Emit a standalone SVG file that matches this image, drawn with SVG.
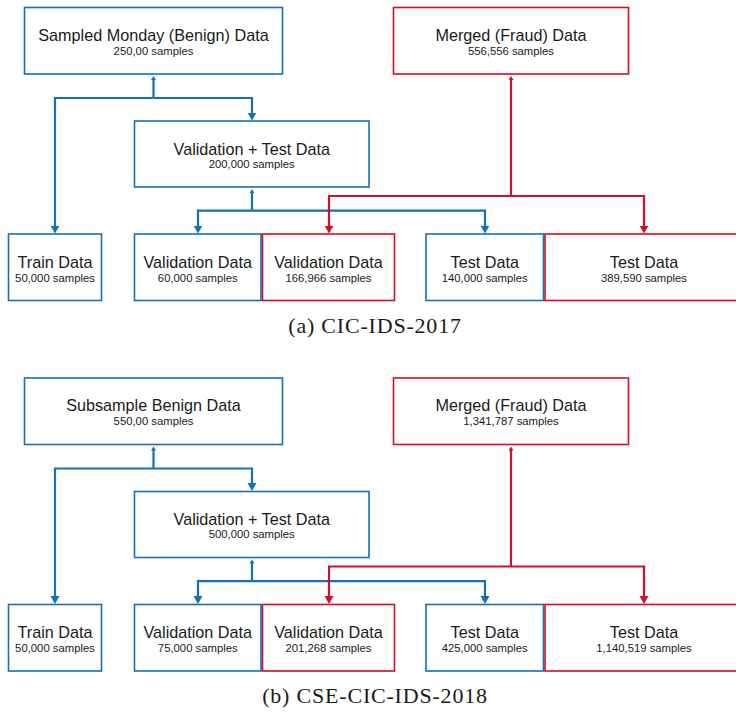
<svg xmlns="http://www.w3.org/2000/svg" width="736" height="716" viewBox="0 0 736 716">
<defs>
<style>
.bb{fill:#fff;stroke:#1570B5;stroke-width:1.6}
.rb{fill:#fff;stroke:#D0102A;stroke-width:1.6}
.t{font-family:"Liberation Sans",Arial,Helvetica,sans-serif;font-size:16.2px;fill:#1a1a1a;text-anchor:middle}
.s{font-family:"Liberation Sans",Arial,Helvetica,sans-serif;font-size:11.3px;fill:#1a1a1a;text-anchor:middle}
.cap{font-family:"Liberation Serif","Times New Roman",serif;font-size:22px;fill:#1a1a1a;text-anchor:middle;letter-spacing:0.8px}
.cb{fill:none;stroke:#1570B5;stroke-width:2.2}
.cr{fill:none;stroke:#D0102A;stroke-width:2.2}
</style>
<marker id="ab" markerUnits="userSpaceOnUse" markerWidth="12" markerHeight="12" refX="4" refY="4.5" orient="auto"><path d="M0,0 L8,4.5 L0,9 z" fill="#1570B5"/></marker>
<marker id="ar" markerUnits="userSpaceOnUse" markerWidth="12" markerHeight="12" refX="4" refY="4.5" orient="auto"><path d="M0,0 L8,4.5 L0,9 z" fill="#D0102A"/></marker>
<marker id="sb" markerUnits="userSpaceOnUse" markerWidth="8" markerHeight="8" refX="1" refY="2.5" orient="auto"><path d="M0,0 L4,2.5 L0,5 z" fill="#1570B5"/></marker>
<marker id="sr" markerUnits="userSpaceOnUse" markerWidth="8" markerHeight="8" refX="1" refY="2.5" orient="auto"><path d="M0,0 L4,2.5 L0,5 z" fill="#D0102A"/></marker>
</defs>

<!-- Panel (a) -->
<g id="connectors-a">
<path class="cb" d="M153.5,98 V79" marker-end="url(#sb)"/>
<path class="cb" d="M153.5,98 H55 V229.5" marker-end="url(#ab)"/>
<path class="cb" d="M153.5,98 H252 V116.5" marker-end="url(#ab)"/>
<path class="cb" d="M252,210.7 V192" marker-end="url(#sb)"/>
<path class="cb" d="M252,210.7 H198 V229.5" marker-end="url(#ab)"/>
<path class="cb" d="M252,210.7 H485 V229.5" marker-end="url(#ab)"/>
<path class="cr" d="M511,196 V79" marker-end="url(#sr)"/>
<path class="cr" d="M511,196 H329 V229.5" marker-end="url(#ar)"/>
<path class="cr" d="M511,196 H644 V229.5" marker-end="url(#ar)"/>
</g>
<g id="a-benign"><rect class="bb" x="24.5" y="7.5" width="258" height="66.5"/><text class="t" x="153.5" y="40.5">Sampled Monday (Benign) Data</text><text class="s" x="153.5" y="54.5">250,00 samples</text></g>
<g id="a-fraud"><rect class="rb" x="393.5" y="7.5" width="235" height="66.5"/><text class="t" x="511" y="40.5">Merged (Fraud) Data</text><text class="s" x="511" y="54.5">556,556 samples</text></g>
<g id="a-valtest"><rect class="bb" x="134.5" y="121" width="234.5" height="66"/><text class="t" x="251.75" y="154.5">Validation + Test Data</text><text class="s" x="251.75" y="167.5">200,000 samples</text></g>
<g id="a-train"><rect class="bb" x="8.5" y="234" width="93" height="66.5"/><text class="t" x="55" y="267.5">Train Data</text><text class="s" x="55" y="281.5">50,000 samples</text></g>
<g id="a-val-benign"><rect class="bb" x="134.5" y="234" width="126.5" height="66.5"/><text class="t" x="197.75" y="267.5">Validation Data</text><text class="s" x="197.75" y="281.5">60,000 samples</text></g>
<g id="a-val-fraud"><rect class="rb" x="262.5" y="234" width="132" height="66.5"/><text class="t" x="328.5" y="267.5">Validation Data</text><text class="s" x="328.5" y="281.5">166,966 samples</text></g>
<g id="a-test-benign"><rect class="bb" x="426" y="234" width="117.5" height="66.5"/><text class="t" x="484.75" y="267.5">Test Data</text><text class="s" x="484.75" y="281.5">140,000 samples</text></g>
<g id="a-test-fraud"><rect class="rb" x="545" y="234" width="199" height="66.5"/><text class="t" x="644" y="267.5">Test Data</text><text class="s" x="644" y="281.5">389,590 samples</text></g>
<text class="cap" x="375" y="333">(a) CIC-IDS-2017</text>

<!-- Panel (b) -->
<g transform="translate(0,370.5)">
<g id="connectors-b">
<path class="cb" d="M153.5,98 V79" marker-end="url(#sb)"/>
<path class="cb" d="M153.5,98 H55 V229.5" marker-end="url(#ab)"/>
<path class="cb" d="M153.5,98 H252 V116.5" marker-end="url(#ab)"/>
<path class="cb" d="M252,210.7 V192" marker-end="url(#sb)"/>
<path class="cb" d="M252,210.7 H198 V229.5" marker-end="url(#ab)"/>
<path class="cb" d="M252,210.7 H485 V229.5" marker-end="url(#ab)"/>
<path class="cr" d="M511,196 V79" marker-end="url(#sr)"/>
<path class="cr" d="M511,196 H329 V229.5" marker-end="url(#ar)"/>
<path class="cr" d="M511,196 H644 V229.5" marker-end="url(#ar)"/>
</g>
<g id="b-benign"><rect class="bb" x="24.5" y="7.5" width="258" height="66.5"/><text class="t" x="153.5" y="40.5">Subsample Benign Data</text><text class="s" x="153.5" y="54.5">550,00 samples</text></g>
<g id="b-fraud"><rect class="rb" x="393.5" y="7.5" width="235" height="66.5"/><text class="t" x="511" y="40.5">Merged (Fraud) Data</text><text class="s" x="511" y="54.5">1,341,787 samples</text></g>
<g id="b-valtest"><rect class="bb" x="134.5" y="121" width="234.5" height="66"/><text class="t" x="251.75" y="154.5">Validation + Test Data</text><text class="s" x="251.75" y="167.5">500,000 samples</text></g>
<g id="b-train"><rect class="bb" x="8.5" y="234" width="93" height="66.5"/><text class="t" x="55" y="267.5">Train Data</text><text class="s" x="55" y="281.5">50,000 samples</text></g>
<g id="b-val-benign"><rect class="bb" x="134.5" y="234" width="126.5" height="66.5"/><text class="t" x="197.75" y="267.5">Validation Data</text><text class="s" x="197.75" y="281.5">75,000 samples</text></g>
<g id="b-val-fraud"><rect class="rb" x="262.5" y="234" width="132" height="66.5"/><text class="t" x="328.5" y="267.5">Validation Data</text><text class="s" x="328.5" y="281.5">201,268 samples</text></g>
<g id="b-test-benign"><rect class="bb" x="426" y="234" width="117.5" height="66.5"/><text class="t" x="484.75" y="267.5">Test Data</text><text class="s" x="484.75" y="281.5">425,000 samples</text></g>
<g id="b-test-fraud"><rect class="rb" x="545" y="234" width="199" height="66.5"/><text class="t" x="644" y="267.5">Test Data</text><text class="s" x="644" y="281.5">1,140,519 samples</text></g>
</g>
<text class="cap" x="375" y="703">(b) CSE-CIC-IDS-2018</text>
</svg>
